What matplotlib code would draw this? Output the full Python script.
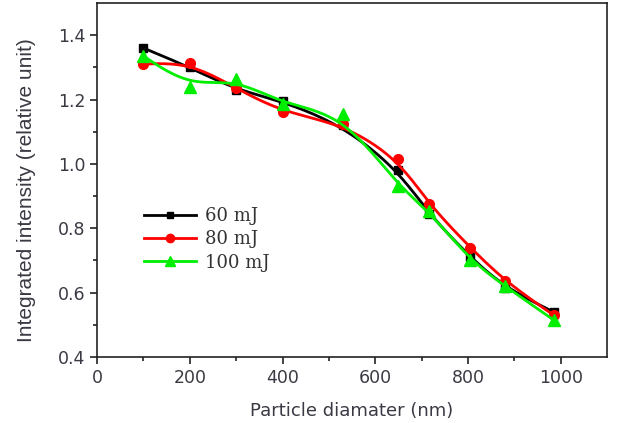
import numpy as np
import matplotlib.pyplot as plt

# particle diameter (nm)
diam = [100, 200, 300, 400, 530, 650, 715, 805, 880, 985]
i60 = [1.36, 1.30, 1.23, 1.195, 1.12, 0.98, 0.845, 0.71, 0.615, 0.54]
i80 = [1.31, 1.315, 1.235, 1.16, 1.125, 1.015, 0.875, 0.74, 0.635, 0.53]
i100 = [1.335, 1.24, 1.265, 1.185, 1.155, 0.93, 0.855, 0.70, 0.62, 0.515]
labels = ["60 mJ", "80 mJ", "100 mJ"]


def bspline(x, y, n=20):
    # uniform cubic B-spline with the data as control points (ends clamped)
    px = np.r_[x[0], x[0], x, x[-1], x[-1]].astype(float)
    py = np.r_[y[0], y[0], y, y[-1], y[-1]].astype(float)
    t = np.linspace(0, 1, n, endpoint=False)
    b0 = (1 - t)**3 / 6
    b1 = (3*t**3 - 6*t**2 + 4) / 6
    b2 = (-3*t**3 + 3*t**2 + 3*t + 1) / 6
    b3 = t**3 / 6
    xs, ys = [], []
    for i in range(len(px) - 3):
        xs.extend(b0*px[i] + b1*px[i+1] + b2*px[i+2] + b3*px[i+3])
        ys.extend(b0*py[i] + b1*py[i+1] + b2*py[i+2] + b3*py[i+3])
    xs.append(x[-1])
    ys.append(y[-1])
    return xs, ys


fig = plt.figure(figsize=(6.43, 4.23), dpi=100)
ax = fig.add_axes([0.151, 0.156, 0.793, 0.837])

series = [(i60, "black", "s", 6), (i80, "red", "o", 7), (i100, "#00ee00", "^", 8)]
for (vals, col, mk, ms), lab in zip(series, labels):
    sx, sy = bspline(diam, vals)
    ax.plot(sx, sy, color=col, lw=2)
    ax.plot(diam, vals, color=col, marker=mk, ms=ms, ls="none")
    ax.plot([], [], color=col, lw=2, marker=mk, ms=ms - 1, label=lab)

ax.set_xlim(0, 1100)
ax.set_ylim(0.4, 1.5)
ax.set_xticks([0, 200, 400, 600, 800, 1000])
ax.set_xticks(np.arange(100, 1100, 200), minor=True)
ax.set_yticks([0.4, 0.6, 0.8, 1.0, 1.2, 1.4])
ax.set_yticks(np.arange(0.5, 1.5, 0.2), minor=True)
ax.set_yticklabels(["0.4", "0.6", "0.8", "1.0", "1.2", "1.4"])
ax.tick_params(which="both", direction="out", width=1.2, colors="#222222",
               labelcolor="#3a3a44", labelsize=12.5)
ax.tick_params(which="major", length=5)
ax.tick_params(which="minor", length=3)
ax.tick_params(top=False, right=False)
for s in ax.spines.values():
    s.set_linewidth(1.2)
    s.set_color("#222222")

ax.set_xlabel("Particle diamater (nm)", fontsize=13, color="#3a3a44", labelpad=11)
ax.set_ylabel("Integrated intensity (relative unit)", family="Liberation Sans",
              fontsize=15, color="#3a3a44", labelpad=20)
ax.yaxis.set_label_coords(-0.12, 0.47)

leg = ax.legend(loc="upper left", bbox_to_anchor=(0.06, 0.47), frameon=False,
                numpoints=1, handlelength=2.9, handletextpad=0.5, labelspacing=0.3,
                prop={"family": "DejaVu Serif", "size": 13})
for t in leg.get_texts():
    t.set_color("#333333")

fig.savefig("out.png", dpi=100)
